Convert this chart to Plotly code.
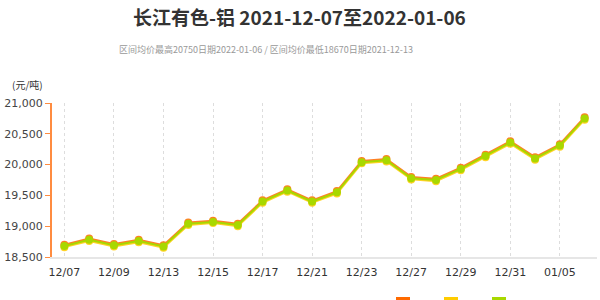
import plotly.graph_objects as go

# Trading days shown on the category axis
dates = ["12/07", "12/08", "12/09", "12/10", "12/13", "12/14", "12/15", "12/16",
         "12/17", "12/20", "12/21", "12/22", "12/23", "12/24", "12/27", "12/28",
         "12/29", "12/30", "12/31", "01/04", "01/05", "01/06"]

# Prices in 元/吨
high_price = [18700, 18800, 18710, 18780, 18690, 19060, 19090, 19040, 19420, 19600,
              19420, 19570, 20060, 20090, 19800, 19770, 19950, 20160, 20380, 20120,
              20330, 20770]
low_price = [18660, 18760, 18670, 18740, 18650, 19020, 19050, 19000, 19380, 19560,
             19380, 19530, 20020, 20050, 19760, 19730, 19910, 20120, 20340, 20080,
             20290, 20730]
avg_price = [18680, 18780, 18690, 18760, 18670, 19040, 19070, 19020, 19400, 19580,
             19400, 19550, 20040, 20070, 19780, 19750, 19930, 20140, 20360, 20100,
             20310, 20750]

series_names = ["最高价", "最低价", "均价"]
series_colors = ["#ff6a00", "#ffcc00", "#a8d800"]
tick_labels = dates[::2]

fig = go.Figure()
for name, values, color in zip(series_names, [high_price, low_price, avg_price], series_colors):
    fig.add_trace(go.Scatter(
        x=dates, y=values, name=name, mode="lines+markers",
        line=dict(color=color, width=2),
        marker=dict(color=color, size=8),
        opacity=0.85 if color != series_colors[-1] else 1.0,
        showlegend=False,
    ))

# Legend swatches along the bottom edge
legend_x = [396, 444, 492]
for lx, color in zip(legend_x, series_colors):
    fig.add_shape(type="rect", xref="paper", yref="paper",
                  x0=(lx - 52) / 545, x1=(lx + 14 - 52) / 545,
                  y0=(257 - 304) / 154, y1=(257 - 297) / 154,
                  fillcolor=color, line=dict(width=0))

fig.add_annotation(text="<b>长江有色-铝 2021-12-07至2022-01-06</b>",
                   xref="paper", yref="paper", x=(299 - 52) / 545, y=(257 - 17) / 154,
                   xanchor="center", yanchor="middle", showarrow=False,
                   font=dict(family="Noto Sans CJK SC", size=19, color="#333"))
fig.add_annotation(text="区间均价最高20750日期2022-01-06 / 区间均价最低18670日期2021-12-13",
                   xref="paper", yref="paper", x=(266 - 52) / 545, y=(257 - 49) / 154,
                   xanchor="center", yanchor="middle", showarrow=False,
                   font=dict(family="Noto Sans CJK SC", size=9, color="#999"))
fig.add_annotation(text="(元/吨)",
                   xref="paper", yref="paper", x=(10 - 52) / 545, y=(257 - 84) / 154,
                   xanchor="left", yanchor="middle", showarrow=False,
                   font=dict(family="Noto Sans CJK SC", size=10, color="#333"))

fig.update_xaxes(
    type="category", range=[-0.5, len(dates) - 0.5],
    tickmode="array", tickvals=tick_labels, ticktext=tick_labels,
    showgrid=True, gridcolor="#dddddd", griddash="dot", gridwidth=1,
    showline=True, linecolor="#e6e6e6", linewidth=2,
    ticks="outside", ticklen=4, tickcolor="rgba(0,0,0,0)",
    tickfont=dict(family="DejaVu Sans", size=11, color="#333"),
    zeroline=False,
)
fig.update_yaxes(
    range=[18500, 21000], tickvals=[18500, 19000, 19500, 20000, 20500, 21000],
    tickformat=",", showgrid=False, zeroline=False,
    showline=True, linecolor="#ff8c40", linewidth=2,
    ticks="outside", tickcolor="#ff8c40", ticklen=5, tickwidth=1,
    tickfont=dict(family="DejaVu Sans", size=11, color="#444"),
)
fig.update_layout(
    width=600, height=300,
    margin=dict(l=52, r=3, t=103, b=43),
    paper_bgcolor="white", plot_bgcolor="white",
    showlegend=False,
)
fig.write_html("out.html")
